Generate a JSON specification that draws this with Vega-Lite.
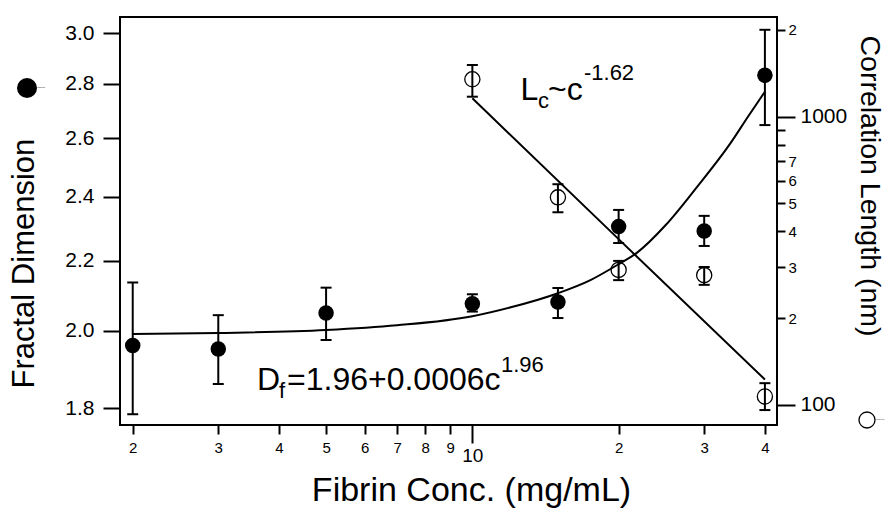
{
  "$schema": "https://vega.github.io/schema/vega-lite/v6.json",
  "width": 657,
  "height": 408,
  "autosize": {"type": "none"},
  "padding": {"left": 120, "top": 17, "right": 111, "bottom": 83},
  "background": "white",
  "config": {
    "font": "Liberation Sans",
    "view": {"stroke": "black", "strokeWidth": 2},
    "axis": {
      "domain": false, "grid": false, "tickColor": "black", "tickWidth": 2,
      "labelColor": "black", "titleColor": "black", "labelFont": "Liberation Sans",
      "titleFont": "Liberation Sans", "titleFontWeight": "normal",
      "labelOverlap": false, "labelFlush": false
    },
    "legend": {"padding": 0, "title": null, "labelExpr": "''", "labelFontSize": 1, "symbolOffset": 0, "labelOffset": 0, "orient": "none"}
  },
  "datasets": {
    "fd": [
      {"c": 2, "D": 1.960, "lo": 1.785, "hi": 2.136},
      {"c": 3, "D": 1.951, "lo": 1.860, "hi": 2.043},
      {"c": 5, "D": 2.049, "lo": 1.975, "hi": 2.121},
      {"c": 10, "D": 2.075, "lo": 2.053, "hi": 2.102},
      {"c": 15, "D": 2.080, "lo": 2.035, "hi": 2.120},
      {"c": 20, "D": 2.305, "lo": 2.254, "hi": 2.358},
      {"c": 30, "D": 2.291, "lo": 2.245, "hi": 2.339},
      {"c": 40, "D": 2.833, "lo": 2.647, "hi": 3.014}
    ],
    "fdfit": [
      {"c": 2, "D": 1.991}, {"c": 3, "D": 1.994}, {"c": 5, "D": 2.002},
      {"c": 7, "D": 2.015}, {"c": 10, "D": 2.040}, {"c": 12, "D": 2.065},
      {"c": 15, "D": 2.105}, {"c": 17.5, "D": 2.143}, {"c": 20, "D": 2.19},
      {"c": 21.8, "D": 2.224}, {"c": 25, "D": 2.31}, {"c": 28.9, "D": 2.43},
      {"c": 33.9, "D": 2.58}, {"c": 37, "D": 2.68}, {"c": 40, "D": 2.77}
    ],
    "lc": [
      {"c": 10, "L": 1348, "lo": 1173, "hi": 1511},
      {"c": 15, "L": 525, "lo": 466, "hi": 583},
      {"c": 20, "L": 294, "lo": 271, "hi": 316},
      {"c": 30, "L": 282, "lo": 261, "hi": 301},
      {"c": 40, "L": 107, "lo": 96, "hi": 119}
    ],
    "lcfit": [
      {"c": 10, "L": 1158}, {"c": 20, "L": 376}, {"c": 40, "L": 122.5}
    ],
    "notebig": [
      {"c": 3.605, "D": 1.8449, "t": "D"},
      {"c": 4.155, "D": 1.8449, "t": "=1.96+0.0006c"},
      {"c": 12.57, "D": 2.7397, "t": "L"},
      {"c": 14.31, "D": 2.7397, "t": "~c"}
    ],
    "notesmall": [
      {"c": 4.0, "D": 1.8248, "t": "f"},
      {"c": 11.45, "D": 1.8909, "t": "1.96"},
      {"c": 13.65, "D": 2.71, "t": "c"},
      {"c": 16.97, "D": 2.8137, "t": "-1.62"}
    ]
  },
  "layer": [
    {
      "data": {"name": "fdfit"},
      "mark": {"type": "line", "color": "black", "strokeWidth": 2, "interpolate": "monotone"},
      "encoding": {
        "x": {
          "field": "c", "type": "quantitative",
          "scale": {"type": "log", "domain": [1.883, 42.36], "nice": false},
          "axis": {
            "orient": "bottom",
            "values": [2, 3, 4, 5, 6, 7, 8, 9, 20, 30, 40],
            "labelExpr": "datum.value < 10 ? '' + datum.value : '' + (datum.value / 10)",
            "tickSize": 9,
            "labelFontSize": 15,
            "labelPadding": 6,
            "title": "Fibrin Conc. (mg/mL)",
            "titleFontSize": 34,
            "titleX": 351, "titleY": 75,
            "titleAlign": "center", "titleBaseline": "alphabetic"
          }
        },
        "y": {
          "field": "D", "type": "quantitative",
          "scale": {"type": "log", "domain": [1.759, 3.067], "nice": false, "zero": false},
          "axis": {
            "orient": "left",
            "values": [1.8, 2.0, 2.2, 2.4, 2.6, 2.8, 3.0],
            "format": ".1f",
            "tickSize": 17,
            "labelFontSize": 21,
            "labelPadding": 9,
            "title": "Fractal Dimension",
            "titleFontSize": 31,
            "titleAngle": 270,
            "titleAlign": "left",
            "titleBaseline": "alphabetic",
            "titleX": -87, "titleY": 371
          }
        }
      }
    },
    {
      "data": {"name": "fd"},
      "mark": {"type": "rule", "color": "black", "strokeWidth": 2},
      "encoding": {
        "x": {
          "field": "c", "type": "quantitative",
          "scale": {"type": "log", "domain": [1.883, 42.36], "nice": false},
          "axis": {
            "orient": "bottom",
            "values": [10],
            "tickSize": 18,
            "labelFontSize": 19,
            "labelPadding": 3,
            "format": "d",
            "title": null
          }
        },
        "y": {"field": "lo", "type": "quantitative", "scale": {"type": "log", "domain": [1.759, 3.067], "nice": false, "zero": false}, "axis": null},
        "y2": {"field": "hi"}
      }
    },
    {
      "data": {"name": "fd"},
      "mark": {"type": "tick", "orient": "horizontal", "color": "black", "size": 11, "thickness": 2, "opacity": 1},
      "encoding": {
        "x": {"field": "c", "type": "quantitative", "scale": {"type": "log", "domain": [1.883, 42.36], "nice": false}, "axis": null},
        "y": {"field": "lo", "type": "quantitative", "scale": {"type": "log", "domain": [1.759, 3.067], "nice": false, "zero": false}, "axis": null}
      }
    },
    {
      "data": {"name": "fd"},
      "mark": {"type": "tick", "orient": "horizontal", "color": "black", "size": 11, "thickness": 2, "opacity": 1},
      "encoding": {
        "x": {"field": "c", "type": "quantitative", "scale": {"type": "log", "domain": [1.883, 42.36], "nice": false}, "axis": null},
        "y": {"field": "hi", "type": "quantitative", "scale": {"type": "log", "domain": [1.759, 3.067], "nice": false, "zero": false}, "axis": null}
      }
    },
    {
      "data": {"name": "fd"},
      "mark": {"type": "point", "filled": true, "color": "black", "size": 240, "opacity": 1},
      "encoding": {
        "x": {"field": "c", "type": "quantitative", "scale": {"type": "log", "domain": [1.883, 42.36], "nice": false}, "axis": null},
        "y": {"field": "D", "type": "quantitative", "scale": {"type": "log", "domain": [1.759, 3.067], "nice": false, "zero": false}, "axis": null},
        "shape": {
          "datum": "Fractal Dimension", "type": "nominal",
          "scale": {"range": ["circle"]},
          "legend": {"legendX": -103, "legendY": 61, "symbolType": "circle", "symbolSize": 400, "symbolFillColor": "black", "symbolStrokeColor": "black", "symbolStrokeWidth": 0}
        }
      }
    },
    {
      "data": {"name": "notebig"},
      "mark": {"type": "text", "align": "left", "baseline": "alphabetic", "fontSize": 32, "color": "black", "font": "Liberation Sans"},
      "encoding": {
        "x": {"field": "c", "type": "quantitative", "scale": {"type": "log", "domain": [1.883, 42.36], "nice": false}, "axis": null},
        "y": {"field": "D", "type": "quantitative", "scale": {"type": "log", "domain": [1.759, 3.067], "nice": false, "zero": false}, "axis": null},
        "text": {"field": "t"}
      }
    },
    {
      "data": {"name": "notesmall"},
      "mark": {"type": "text", "align": "left", "baseline": "alphabetic", "fontSize": 22, "color": "black", "font": "Liberation Sans"},
      "encoding": {
        "x": {"field": "c", "type": "quantitative", "scale": {"type": "log", "domain": [1.883, 42.36], "nice": false}, "axis": null},
        "y": {"field": "D", "type": "quantitative", "scale": {"type": "log", "domain": [1.759, 3.067], "nice": false, "zero": false}, "axis": null},
        "text": {"field": "t"}
      }
    },
    {
      "data": {"name": "lcfit"},
      "mark": {"type": "line", "color": "black", "strokeWidth": 2},
      "encoding": {
        "x": {"field": "c", "type": "quantitative", "scale": {"type": "log", "domain": [1.883, 42.36], "nice": false}, "axis": null},
        "y": {
          "field": "L", "type": "quantitative",
          "scale": {"type": "log", "domain": [85.2, 2217], "nice": false, "zero": false},
          "axis": {
            "orient": "right",
            "values": [100, 200, 300, 400, 500, 600, 700, 800, 900, 1000, 2000],
            "labelExpr": "(datum.value == 100 || datum.value == 1000) ? '' + datum.value : ((datum.value == 800 || datum.value == 900) ? '' : '' + (datum.value >= 1000 ? datum.value / 1000 : datum.value / 100))",
            "tickSize": {"condition": {"test": "datum.value == 100 || datum.value == 1000", "value": 18}, "value": 8},
            "labelFontSize": {"condition": {"test": "datum.value == 100 || datum.value == 1000", "value": 21}, "value": 15},
            "labelPadding": {"condition": {"test": "datum.value == 100 || datum.value == 1000", "value": 5}, "value": 3},
            "labelBaseline": "middle",
            "title": "Correlation Length (nm)",
            "titleFontSize": 28.5,
            "titleAngle": 90,
            "titleAlign": "left",
            "titleBaseline": "alphabetic",
            "titleX": 83, "titleY": 18
          }
        }
      }
    },
    {
      "data": {"name": "lc"},
      "mark": {"type": "rule", "color": "black", "strokeWidth": 2},
      "encoding": {
        "x": {"field": "c", "type": "quantitative", "scale": {"type": "log", "domain": [1.883, 42.36], "nice": false}, "axis": null},
        "y": {"field": "lo", "type": "quantitative", "scale": {"type": "log", "domain": [85.2, 2217], "nice": false, "zero": false}, "axis": null},
        "y2": {"field": "hi"}
      }
    },
    {
      "data": {"name": "lc"},
      "mark": {"type": "tick", "orient": "horizontal", "color": "black", "size": 11, "thickness": 2, "opacity": 1},
      "encoding": {
        "x": {"field": "c", "type": "quantitative", "scale": {"type": "log", "domain": [1.883, 42.36], "nice": false}, "axis": null},
        "y": {"field": "lo", "type": "quantitative", "scale": {"type": "log", "domain": [85.2, 2217], "nice": false, "zero": false}, "axis": null}
      }
    },
    {
      "data": {"name": "lc"},
      "mark": {"type": "tick", "orient": "horizontal", "color": "black", "size": 11, "thickness": 2, "opacity": 1},
      "encoding": {
        "x": {"field": "c", "type": "quantitative", "scale": {"type": "log", "domain": [1.883, 42.36], "nice": false}, "axis": null},
        "y": {"field": "hi", "type": "quantitative", "scale": {"type": "log", "domain": [85.2, 2217], "nice": false, "zero": false}, "axis": null}
      }
    },
    {
      "data": {"name": "lc"},
      "mark": {"type": "point", "filled": false, "color": "black", "strokeWidth": 1.3, "size": 230, "opacity": 1},
      "encoding": {
        "x": {"field": "c", "type": "quantitative", "scale": {"type": "log", "domain": [1.883, 42.36], "nice": false}, "axis": null},
        "y": {"field": "L", "type": "quantitative", "scale": {"type": "log", "domain": [85.2, 2217], "nice": false, "zero": false}, "axis": null},
        "shape": {
          "datum": "Correlation Length", "type": "nominal",
          "scale": {"range": ["circle"]},
          "legend": {"legendX": 738, "legendY": 394, "symbolType": "circle", "symbolSize": 256, "symbolFillColor": "transparent", "symbolStrokeColor": "black", "symbolStrokeWidth": 1.3}
        }
      }
    }
  ],
  "resolve": {
    "scale": {"y": "independent", "shape": "independent"},
    "axis": {"x": "independent"},
    "legend": {"shape": "independent"}
  }
}
